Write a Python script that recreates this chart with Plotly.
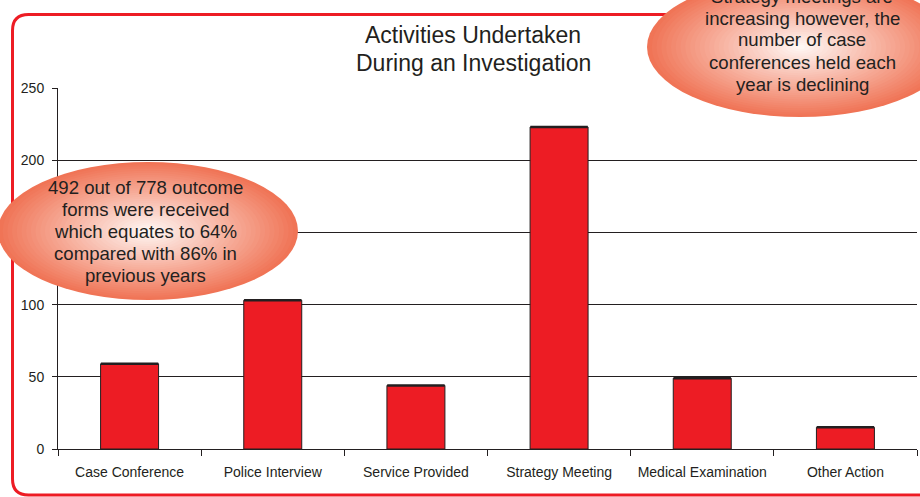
import plotly.graph_objects as go

categories = ["Case Conference", "Police Interview", "Service Provided",
              "Strategy Meeting", "Medical Examination", "Other Action"]
counts = [59, 103, 44, 223, 49, 15]
y_ticks = [0, 50, 100, 150, 200, 250]
title_lines = ["Activities Undertaken", "During an Investigation"]
left_note = ["492 out of 778 outcome", "forms were received",
             "which equates to 64%", "compared with 86% in", "previous years"]
right_note = ["Strategy meetings are", "increasing however, the",
              "number of case", "conferences held each", "year is declining"]

W, H = 920, 497
OFF = 0  # body margin removed via post_script
PX0, PX1, PY0, PY1 = 58, 917, 88, 449
L = PX0 - OFF
T = PY0 - OFF
R = W - (PX1 - OFF)
B = H - (PY1 - OFF)
PW, PH = PX1 - PX0, PY1 - PY0
FONT = "Liberation Sans, Arial, sans-serif"
DARK = "#231f20"
RED = "#ed1c24"


def px(x):
    return (x - PX0) / PW


def py(y):
    return (PY1 - y) / PH


fig = go.Figure()
fig.add_trace(go.Bar(
    x=categories, y=counts, width=0.405,
    marker=dict(color=RED, line=dict(color=DARK, width=1)),
    hoverinfo="skip", showlegend=False,
))
fig.add_trace(go.Scatter(
    x=categories, y=counts, mode="markers",
    marker=dict(symbol="line-ew", size=41, line=dict(color=DARK, width=2.5)),
    hoverinfo="skip", showlegend=False, cliponaxis=False,
))

shapes = []

x0, y0, x1, y1, r = 12.5, 14.5, 940, 495, 16
path = (f"M {px(x0)},{py(y0 + r)} Q {px(x0)},{py(y0)} {px(x0 + r)},{py(y0)} "
        f"L {px(x1)},{py(y0)} L {px(x1)},{py(y1)} L {px(x0 + r)},{py(y1)} "
        f"Q {px(x0)},{py(y1)} {px(x0)},{py(y1 - r)} Z")
shapes.append(dict(type="path", xref="paper", yref="paper", path=path,
                   line=dict(color=RED, width=3), fillcolor="rgba(0,0,0,0)",
                   layer="above"))

edge = (240, 116, 86)
center = (255, 250, 247)


def gradient_ellipse(cx, cy, rx, ry, n=32):
    out = []
    for i in range(n):
        f = 1 - i / n
        t = (1 - f) ** 1.0
        c = tuple(round(edge[k] + (center[k] - edge[k]) * t) for k in range(3))
        out.append(dict(type="circle", xref="paper", yref="paper",
                        x0=px(cx - rx * f), x1=px(cx + rx * f),
                        y0=py(cy + ry * f), y1=py(cy - ry * f),
                        fillcolor=f"rgb{c}", line=dict(width=0), layer="above"))
    return out


shapes += gradient_ellipse(148, 231, 150, 69)
shapes += gradient_ellipse(800, 47, 153, 70)

annotations = []
for i, t in enumerate(title_lines):
    annotations.append(dict(text=t, xref="paper", yref="paper", x=px(473),
                            y=py(35 + 28 * i), showarrow=False,
                            xanchor="center", yanchor="middle",
                            font=dict(family=FONT, size=23, color=DARK)))
for i, t in enumerate(left_note):
    annotations.append(dict(text=t, xref="paper", yref="paper", x=px(145),
                            y=py(187 + 22 * i), showarrow=False,
                            xanchor="center", yanchor="middle",
                            font=dict(family=FONT, size=18.6, color=DARK)))
for i, t in enumerate(right_note):
    annotations.append(dict(text=t, xref="paper", yref="paper", x=px(802),
                            y=py(-4 + 22 * i), showarrow=False,
                            xanchor="center", yanchor="middle",
                            font=dict(family=FONT, size=18.6, color=DARK)))

fig.update_layout(
    width=W, height=H,
    margin=dict(l=L, r=R, t=T, b=B, pad=0),
    paper_bgcolor="white", plot_bgcolor="white",
    shapes=shapes, annotations=annotations,
    xaxis=dict(showline=True, linecolor=DARK, linewidth=1, ticks="outside",
               tickson="boundaries", ticklen=6, tickcolor=DARK,
               ticklabelstandoff=10,
               tickfont=dict(family=FONT, size=14, color=DARK),
               showgrid=False, fixedrange=True),
    yaxis=dict(range=[0, 250], tickvals=y_ticks, showline=True,
               linecolor=DARK, linewidth=1, ticks="outside", ticklen=5,
               tickcolor=DARK, showgrid=True, gridcolor=DARK, gridwidth=1,
               zeroline=False, ticklabelstandoff=5,
               tickfont=dict(family=FONT, size=14, color=DARK),
               fixedrange=True),
)

fig.write_html("out.html", config={"displayModeBar": False},
               post_script="document.body.style.margin='0';")
